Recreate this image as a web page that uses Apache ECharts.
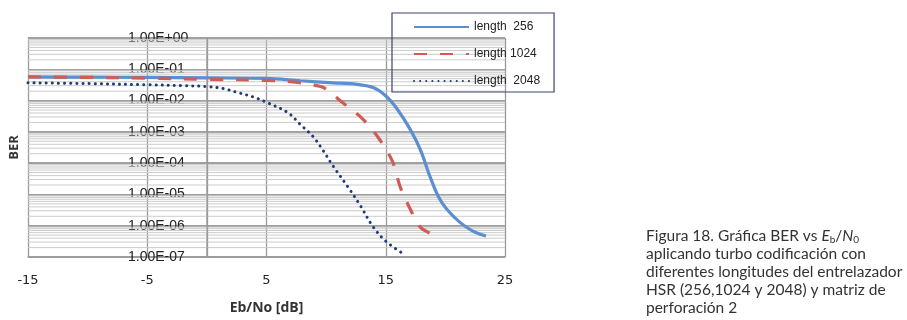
<!DOCTYPE html>
<html>
<head>
<meta charset="utf-8">
<script src="https://cdn.jsdelivr.net/npm/echarts@6/dist/echarts.min.js"></script>
<style>
  html, body { margin: 0; padding: 0; background: #fff; }
  #chart { width: 907px; height: 320px; }
</style>
</head>
<body>
<div id="chart"></div>
<script>
// values (Eb/No in dB, BER)
const eb256 = [-15, -10, -5, 0, 5, 7.85, 10.6, 12.3, 13.95, 15.1, 16.0, 17.05, 17.9, 18.7, 19.4, 20.1, 21.2, 22.3, 23.4]
const ber256 = [5.7e-2, 5.6e-2, 5.5e-2, 5.3e-2, 5.1e-2, 4.3e-2, 3.7e-2, 3.4e-2, 2.6e-2, 1.3e-2, 5.1e-3, 1.2e-3, 2.7e-4, 3.8e-5, 8.7e-6, 3.4e-6, 1.3e-6, 6.7e-7, 4.7e-7]

const eb1024 = [-15, -10, -5, 0, 5, 7, 9, 9.8, 11.4, 13.1, 14.5, 15.6, 16.2, 17.05, 17.9, 18.9]
const ber1024 = [5.7e-2, 5.5e-2, 5.2e-2, 4.8e-2, 4.4e-2, 4.0e-2, 3.1e-2, 2.6e-2, 8.5e-3, 2.5e-3, 5.6e-4, 1.05e-4, 1.8e-5, 3.4e-6, 9e-7, 5.4e-7]

const eb2048 = [-15, -10, -5, -2, 0, 1.4, 2.6, 3.9, 5.1, 6.8, 7.85, 8.9, 9.7, 10.6, 11.8, 12.9, 13.9, 15.0, 16.5]
const ber2048 = [3.7e-2, 3.5e-2, 3.2e-2, 3.0e-2, 2.8e-2, 2.4e-2, 1.8e-2, 1.3e-2, 8.5e-3, 4.1e-3, 1.7e-3, 7.1e-4, 2.7e-4, 7.9e-5, 1.8e-5, 4.2e-6, 9.7e-7, 3.2e-7, 1.25e-7]

const seriesNames = ['length  256', 'length 1024', 'length  2048']
const xTicks = [-15, -5, 5, 15, 25]
const extraVLine = [0]
const minorFactors = [2, 3, 4, 5, 6, 7, 8, 9]
const decades = [-7, -6, -5, -4, -3, -2, -1]

const captionLines = [
  '{t|Figura 18. Gráfica BER vs }{i|E}{s|b}{t|/}{i|N}{s|0}',
  '{t|aplicando turbo codificación con}',
  '{t|diferentes longitudes del entrelazador}',
  '{t|HSR (256,1024 y 2048) y matriz de}',
  '{t|perforación 2}',
]

const chart = echarts.init(document.getElementById('chart'))

function pairs(xs, ys) {
  return xs.map((x, i) => [x, ys[i]])
}

function fmtExp(v) {
  const e = Math.round(Math.log10(v))
  const s = e < 0 ? '-' : '+'
  return '1.00E' + s + String(Math.abs(e)).padStart(2, '0')
}

// log minor gridlines at 2..9 x 10^n, drawn as one broken line series
const minorData = []
decades.forEach(d => {
  minorFactors.forEach(f => {
    const v = f * Math.pow(10, d)
    minorData.push([-15, v], [25, v], [25, '-'])
  })
})

const option = {
  animation: false,
  backgroundColor: '#fff',
  grid: { left: 27, top: 38, right: 402, bottom: 62 },
  legend: {
    left: 392,
    top: 13,
    orient: 'vertical',
    padding: [6, 14, 3, 21],
    itemGap: 11,
    itemWidth: 55,
    itemHeight: 16,
    borderColor: '#3c4278',
    borderWidth: 1.2,
    itemStyle: { opacity: 0 },
    textStyle: { fontSize: 12, color: '#222', fontFamily: 'Liberation Sans', lineHeight: 16 },
    data: seriesNames,
  },
  xAxis: {
    type: 'value',
    min: -15,
    max: 25,
    interval: 10,
    name: 'Eb/No [dB]',
    nameLocation: 'middle',
    nameGap: 44,
    nameTextStyle: { fontSize: 14, fontWeight: 'bold', color: '#333', fontFamily: 'Open Sans' },
    axisLine: { lineStyle: { color: '#9a9a9a', width: 1.5 } },
    axisTick: { show: false },
    axisLabel: {
      fontSize: 13, color: '#222', margin: 17, fontFamily: 'DejaVu Sans',
      formatter: v => (xTicks.includes(v) ? String(v) : ''),
    },
    splitLine: { show: true, lineStyle: { color: '#9a9a9a', width: 1.3 } },
  },
  yAxis: {
    type: 'log',
    logBase: 10,
    min: 1e-7,
    max: 1,
    name: 'BER',
    nameLocation: 'middle',
    nameGap: 7,
    nameRotate: 90,
    nameTextStyle: { fontSize: 13, fontWeight: 'bold', color: '#333', fontFamily: 'Open Sans' },
    axisLine: { show: true, lineStyle: { color: '#9a9a9a', width: 1.5 } },
    axisTick: { show: false },
    axisLabel: {
      inside: true,
      margin: 100,
      fontSize: 14,
      color: '#222',
      fontFamily: 'Liberation Sans',
      formatter: fmtExp,
    },
    splitLine: { show: true, lineStyle: { color: '#a0a0a0', width: 2 } },
  },
  series: [
    {
      name: 'minor',
      type: 'line',
      silent: true,
      symbol: 'none',
      connectNulls: false,
      z: 1,
      data: minorData,
      lineStyle: { color: '#cccccc', width: 1 },
      markLine: {
        silent: true,
        symbol: 'none',
        label: { show: false },
        lineStyle: { color: '#9a9a9a', width: 1.3, type: 'solid' },
        data: extraVLine.map(v => ({ xAxis: v })),
      },
    },
    {
      name: seriesNames[0],
      type: 'line',
      smooth: 0.35,
      symbol: 'none',
      z: 5,
      data: pairs(eb256, ber256),
      lineStyle: { color: '#5b8fcf', width: 3.2 },
      itemStyle: { color: '#5b8fcf' },
    },
    {
      name: seriesNames[1],
      type: 'line',
      smooth: 0.35,
      symbol: 'none',
      z: 5,
      data: pairs(eb1024, ber1024),
      lineStyle: { color: '#cf5d56', width: 3.2, type: [13, 13] },
      itemStyle: { color: '#cf5d56' },
    },
    {
      name: seriesNames[2],
      type: 'line',
      smooth: 0.35,
      symbol: 'none',
      z: 5,
      data: pairs(eb2048, ber2048),
      lineStyle: { color: '#1f3a78', width: 3, type: [0.1, 6], cap: 'round' },
      itemStyle: { color: '#1f3a78' },
    },
  ],
  graphic: captionLines.map((line, i) => ({
    type: 'text',
    left: 646,
    top: 228 + i * 18,
    silent: true,
    style: {
      text: line,
      rich: {
        t: { fontSize: 15.5, fill: '#333', fontFamily: 'Lato' },
        i: { fontSize: 15.5, fill: '#333', fontFamily: 'Lato', fontStyle: 'italic' },
        s: { fontSize: 10, fill: '#333', fontFamily: 'Lato', padding: [7, 0, 0, 0] },
      },
    },
  })),
}

chart.setOption(option)
</script>
</body>
</html>
